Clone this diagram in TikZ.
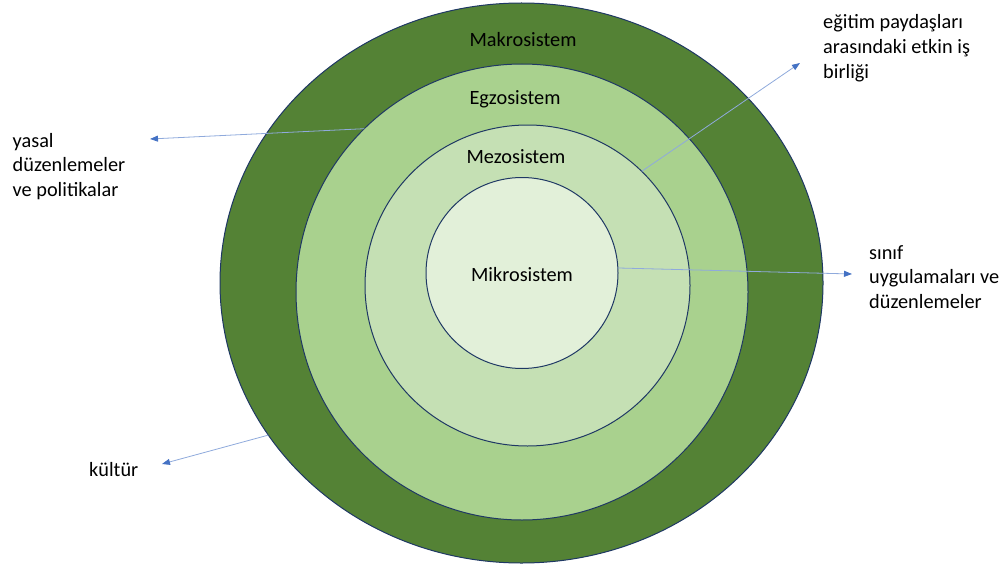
\documentclass[tikz,border=0pt]{standalone}
\usepackage{fontspec}
\setmainfont{Carlito}
\usetikzlibrary{shapes.geometric,arrows.meta}
\definecolor{makro}{HTML}{548235}
\definecolor{egzo}{HTML}{A9D18E}
\definecolor{mezo}{HTML}{C5E0B4}
\definecolor{mikro}{HTML}{E2F0D9}
\definecolor{edge}{HTML}{1F3864}
\definecolor{linkblue}{HTML}{8FAADC}
\definecolor{tipblue}{HTML}{4472C4}
\begin{document}
\begin{tikzpicture}[x=1pt,y=-1pt,
  ring/.style={ellipse, draw=edge, line width=1pt, inner sep=0pt, outer sep=0pt},
  txt/.style={font=\fontsize{20.3}{24.6}\selectfont, inner sep=0pt},
  lbl/.style={txt, align=left, anchor=base west},
  ctr/.style={txt, anchor=base},
  link/.style={draw=linkblue, line width=0.8pt, -{Triangle[length=8pt,width=6pt,color=tipblue]}}]
\useasboundingbox (0,0) rectangle (1008,567);
\node[ring, fill=makro, minimum width=603pt, minimum height=560pt] (makro) at (521.5,283) {};
\node[ring, fill=egzo, minimum width=452pt, minimum height=456pt] (egzo) at (522,292) {};
\node[ring, fill=mezo, minimum width=325pt, minimum height=321pt] (mezo) at (527.5,285.5) {};
\node[ring, fill=mikro, minimum width=192pt, minimum height=191pt] (mikro) at (522,273) {};
\node[ctr] (tmakro) at (523,46.5) {Makrosistem};
\node[ctr] (tegzo) at (515,105) {Egzosistem};
\node[ctr] (tmezo) at (516,163) {Mezosistem};
\node[ctr] (tmikro) at (522,281) {Mikrosistem};
% base anchor of a multi-line node is the baseline of its last line
\node[lbl] (yasal) at (12.5,196.2) {yasal\\düzenlemeler\\ve politikalar};
\node[lbl] (egitim) at (823,78.2) {eğitim paydaşları\\arasındaki etkin iş\\birliği};
\node[lbl] (sinif) at (869,308.2) {sınıf\\uygulamaları ve\\düzenlemeler};
\node[lbl] (kultur) at (89,476.5) {kültür};
\coordinate (tipY) at (150,139);
\coordinate (tipE) at (800,63);
\coordinate (tipS) at (852,274);
\coordinate (tipK) at (162,464);
\draw[link] (egzo.134.1) -- (tipY);
\draw[link] (mezo.45.1) -- (tipE);
\draw[link] (mikro.3.6) -- (tipS);
\draw[link] (makro.211.2) -- (tipK);
\end{tikzpicture}
\end{document}
